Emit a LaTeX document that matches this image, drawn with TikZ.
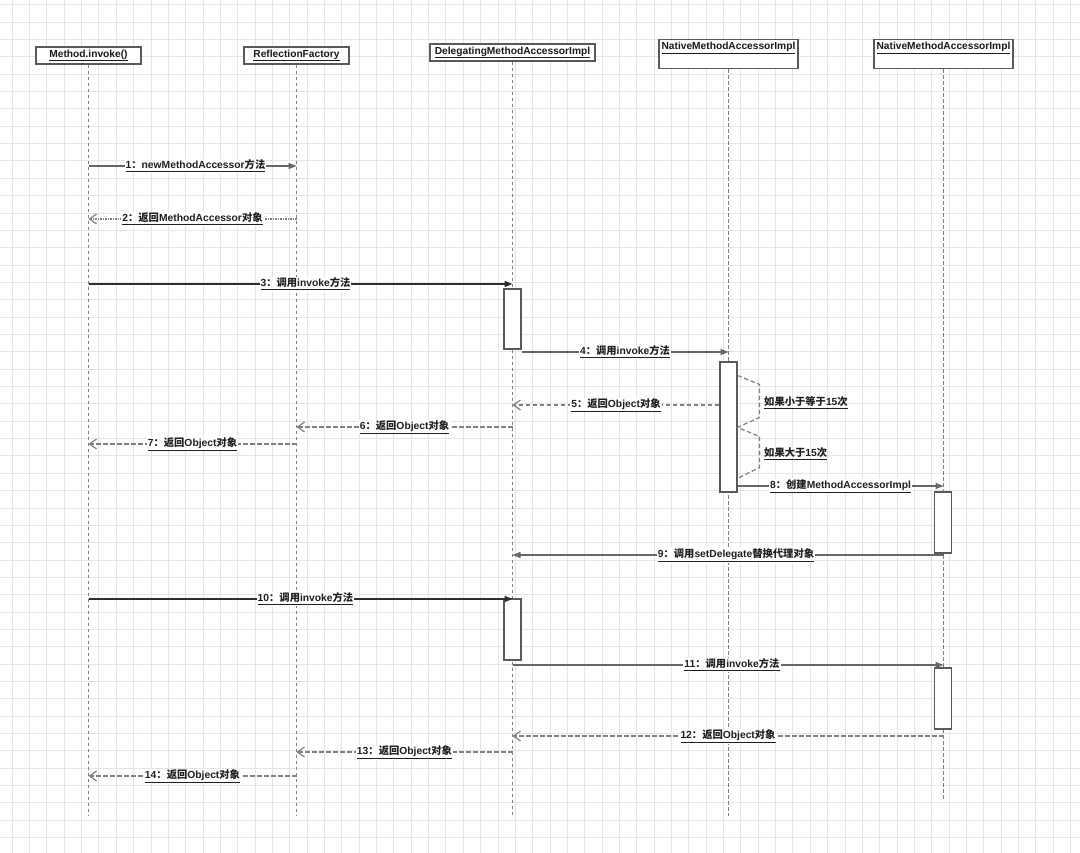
\documentclass[tikz,border=0pt]{standalone}
\usepackage{fontspec}
\setmainfont{Liberation Sans}
\newfontfamily\cjk{Noto Sans CJK SC}
\usetikzlibrary{positioning,arrows.meta}
\newcommand{\zh}[1]{{\cjk #1}}

\begin{document}
\begin{tikzpicture}[x=1pt, y=-1pt,
    gridline/.style={draw=black!10, line width=0.6pt},
    head/.style={draw=black!65, line width=1.1pt, fill=white, minimum height=17pt, inner sep=2pt, font=\bfseries\fontsize{10.2}{12}\selectfont, text=black!90},
    headtall/.style={head, anchor=north, minimum height=29pt, text height=8pt, text depth=17pt},
    lifeline/.style={draw=black!50, line width=1.2pt, dash pattern=on 3.5pt off 2.5pt},
    actbar/.style={draw=black!65, line width=1.1pt, fill=white, minimum width=17pt, inner sep=0pt},
    call/.style={draw=black!60, line width=1.2pt, -{Triangle[length=8pt,width=6pt]}},
    callbold/.style={call, draw=black!82, line width=1.5pt},
    reply/.style={draw=black!50, line width=1.2pt, dash pattern=on 4.5pt off 2.5pt, -{Straight Barb[length=7pt,width=10pt]}},
    replydot/.style={reply, dash pattern=on 1.3pt off 1.2pt},
    msg/.style={fill=white, inner sep=1pt, font=\bfseries\fontsize{10.3}{12}\selectfont, text=black!88},
]
\useasboundingbox (0,0) rectangle (1080,853);
\fill[white] (0,0) rectangle (1080,853);
% grid
\foreach \i in {-1,...,61} {
    \draw[gridline] (12+\i*17.35,0) -- ++(0,853);
}
\foreach \j in {-1,...,47} {
    \draw[gridline] (0,22+\j*17.35) -- ++(1080,0);
}

% heads
\node[head, minimum width=105pt] (hd1) at (88.5,55.5) {\underline{Method.invoke()}};
\node[head, minimum width=105pt] (hd2) at (296.5,55.5) {\underline{ReflectionFactory}};
\node[head, minimum width=165pt] (hd3) at (512.5,52.5) {\underline{DelegatingMethodAccessorImpl}};
\node[headtall, minimum width=139pt] (hd4) at (728.5,39) {\underline{NativeMethodAccessorImpl}};
\node[headtall, minimum width=139pt] (hd5) at (943.5,39) {\underline{NativeMethodAccessorImpl}};

% rows
\coordinate (lowA) at (0,816);
\coordinate (lowB) at (0,800);
\foreach \r/\yy in {1/166,2/219,3/284,4/352,5/405,6/427,7/444,8/486,9/555,10/599,11/665,12/736,13/752,14/776} {
    \coordinate (y\r) at (0,\yy);
}

% lifelines
\draw[lifeline] (hd1.south) -- (hd1 |- lowA);
\draw[lifeline] (hd2.south) -- (hd2 |- lowA);
\draw[lifeline] (hd3.south) -- (hd3 |- lowA);
\draw[lifeline] (hd4.south) -- (hd4 |- lowA);
\draw[lifeline] (hd5.south) -- (hd5 |- lowB);

% activations
\node[actbar, minimum height=60pt] (act3a) at (512.5,319) {};
\node[actbar, minimum height=130pt] (act4) at (728.5,427) {};
\node[actbar, minimum height=61pt] (act5a) at (943,522.5) {};
\node[actbar, minimum height=61pt] (act3b) at (512.5,629.5) {};
\node[actbar, minimum height=61pt] (act5b) at (943,698.5) {};

% self check on native impl
\draw[draw=black!50, line width=1.2pt, dash pattern=on 4.5pt off 2.5pt]
    (act4.north east) ++(0,14) -- ++(22,9) -- ++(0,33) -- ++(-22,10)
    -- ++(22,9) -- ++(0,31) -- ++(-22,11);
\node[msg, fill=none, anchor=west] (cond1) at (763,403) {\underline{\zh{如果小于等于}15\zh{次}}};
\node[msg, fill=none, anchor=west] (cond2) at (763,454) {\underline{\zh{如果大于}15\zh{次}}};

% messages
\draw[call] (hd1 |- y1) -- node[msg, xshift=3pt] (l1) {\underline{1\zh{：}newMethodAccessor\zh{方法}}} (hd2 |- y1);
\draw[replydot] (hd2 |- y2) -- node[msg] (l2) {\underline{2\zh{：返回}MethodAccessor\zh{对象}}} (hd1 |- y2);
\draw[callbold] (hd1 |- y3) -- node[msg, xshift=5pt] (l3) {\underline{3\zh{：调用}invoke\zh{方法}}} (hd3 |- y3);
\draw[call] (act3a.east |- y4) -- node[msg] (l4) {\underline{4\zh{：调用}invoke\zh{方法}}} (hd4 |- y4);
\draw[reply] (act4.west |- y5) -- node[msg] (l5) {\underline{5\zh{：返回}Object\zh{对象}}} (hd3 |- y5);
\draw[reply] (hd3 |- y6) -- node[msg] (l6) {\underline{6\zh{：返回}Object\zh{对象}}} (hd2 |- y6);
\draw[reply] (hd2 |- y7) -- node[msg] (l7) {\underline{7\zh{：返回}Object\zh{对象}}} (hd1 |- y7);
\draw[call] (act4.east |- y8) -- node[msg] (l8) {\underline{8\zh{：创建}MethodAccessorImpl}} (hd5 |- y8);
\draw[call] (hd5 |- y9) -- node[msg, xshift=8pt] (l9) {\underline{9\zh{：调用}setDelegate\zh{替换代理对象}}} (hd3 |- y9);
\draw[callbold] (hd1 |- y10) -- node[msg, xshift=5pt] (l10) {\underline{10\zh{：调用}invoke\zh{方法}}} (hd3 |- y10);
\draw[call] (hd3 |- y11) -- node[msg, xshift=4pt] (l11) {\underline{11\zh{：调用}invoke\zh{方法}}} (hd5 |- y11);
\draw[reply] (hd5 |- y12) -- node[msg] (l12) {\underline{12\zh{：返回}Object\zh{对象}}} (hd3 |- y12);
\draw[reply] (hd3 |- y13) -- node[msg] (l13) {\underline{13\zh{：返回}Object\zh{对象}}} (hd2 |- y13);
\draw[reply] (hd2 |- y14) -- node[msg] (l14) {\underline{14\zh{：返回}Object\zh{对象}}} (hd1 |- y14);
\end{tikzpicture}
\end{document}
